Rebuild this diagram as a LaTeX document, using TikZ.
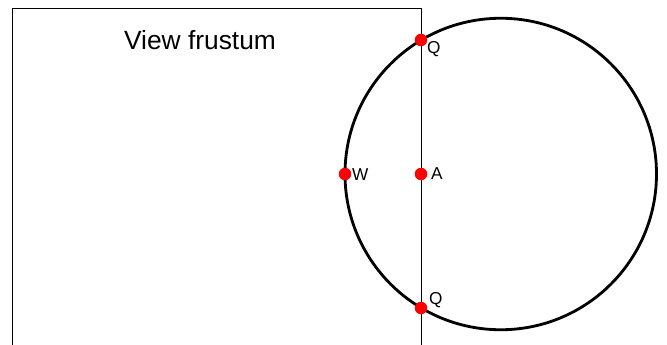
\documentclass[tikz,border=0pt]{standalone}
\usepackage{fontspec}
\setmainfont{Liberation Sans}

\begin{document}
\begin{tikzpicture}[x=0.02cm, y=-0.02cm,
        dot/.style={circle, fill=red, inner sep=0pt, minimum size=0.25cm},
        lbl/.style={font=\fontsize{9.8}{11}\selectfont, inner sep=1pt}]
        \useasboundingbox (0,0) rectangle (667,345);
        % frustum
        \coordinate (fbl) at (12.5,345);
        \coordinate (ftl) at (12.5,8);
        \coordinate (ftr) at (421,8);
        \coordinate (fbr) at (421,345);
        \draw[line width=0.5pt] (fbl) -- (ftl) -- (ftr) -- (fbr);
        \node[font=\fontsize{15}{17}\selectfont] (title) at (200,40) {View frustum};

        % sphere
        \coordinate (c) at (500.75,174);
        \draw[line width=1.6pt] (c) circle (155.75);

        \node[dot] (q1) at (421,40) {};
        \node[dot] (w) at (345,174) {};
        \node[dot] (a) at (421,174) {};
        \node[dot] (q2) at (421,308) {};
        \node[lbl, anchor=west] at (425,49) {Q};
        \node[lbl, anchor=west] at (350,175) {W};
        \node[lbl, anchor=west] at (429,174) {A};
        \node[lbl, anchor=west] at (427,300) {Q};
    \end{tikzpicture}
\end{document}
